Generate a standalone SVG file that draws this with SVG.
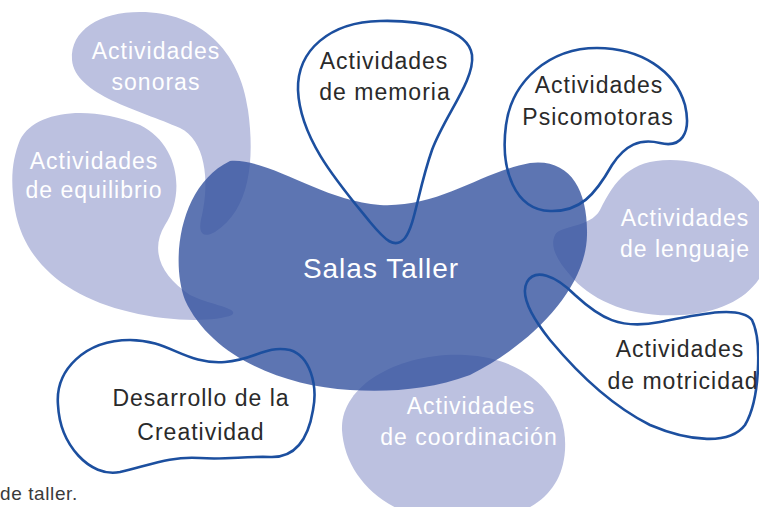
<svg xmlns="http://www.w3.org/2000/svg" width="759" height="507" viewBox="0 0 759 507">
<style>
.light{fill:#bcc1e0}
.main{fill:#34529f;fill-opacity:0.8}
.outline{fill:none;stroke:#1c4f9f;stroke-width:2.6;stroke-linejoin:round}
text{font-family:"Liberation Sans",Arial,sans-serif;font-size:23px;letter-spacing:1px;text-anchor:middle}
.w{fill:#ffffff}
.k{fill:#2a2a2a}
</style>
<rect width="759" height="507" fill="#ffffff"/>
<g id="sonoras">
<path class="light" d="M 72,60 C 70,30 100,12 140,12 C 200,12 240,50 248,110 C 255,160 250,210 215,232 C 200,240 198,230 202,215 C 210,180 205,140 180,128 C 140,110 75,95 72,60 Z"/>
</g>
<g id="equilibrio">
<path class="light" d="M 20,140 C 35,110 90,105 140,125 C 180,145 185,195 165,225 C 150,250 160,275 190,295 C 210,305 240,308 232,315 C 215,322 170,322 130,312 C 70,298 25,265 15,210 C 10,180 12,160 20,140 Z"/>
</g>
<g id="lenguaje">
<path class="light" d="M 555,235 C 560,225 590,228 600,210 C 615,180 630,160 670,160 C 720,160 765,190 770,230 C 775,280 740,312 680,315 C 630,318 590,300 570,275 C 555,258 550,245 555,235 Z"/>
</g>
<g id="coordinacion">
<path class="light" d="M 342,430 C 340,385 400,352 465,355 C 530,358 568,400 565,450 C 562,500 520,522 460,522 C 390,522 345,480 342,430 Z"/>
</g>
<g id="salas-taller">
<path class="main" d="M 230,161 C 270,158 320,200 380,205 C 440,208 480,172 530,163 C 570,158 588,190 587,235 C 586,290 530,345 470,375 C 430,390 390,392 350,390 C 280,386 210,355 185,300 C 170,260 180,185 230,161 Z"/>
</g>
<g id="memoria">
<path class="outline" d="M 380,21 C 420,20 468,28 472,55 C 475,80 445,115 432,150 C 418,190 415,225 405,238 C 395,250 385,240 370,222 C 340,185 300,140 298,90 C 297,50 330,22 380,21 Z"/>
</g>
<g id="psicomotoras">
<path class="outline" d="M 597,48 C 640,48 675,70 685,105 C 692,135 680,148 660,143 C 640,138 625,145 612,165 C 595,195 580,212 550,211 C 515,210 500,170 506,125 C 512,80 550,48 597,48 Z"/>
</g>
<g id="creatividad">
<path class="outline" d="M 58,405 C 55,370 85,340 130,340 C 170,340 185,365 225,362 C 255,360 265,345 290,350 C 310,356 318,385 313,410 C 308,440 295,458 270,457 C 245,456 225,460 200,458 C 170,456 150,465 120,472 C 90,478 60,445 58,405 Z"/>
</g>
<g id="motricidad">
<path class="outline" d="M 527,282 C 535,268 555,275 575,295 C 600,318 620,330 660,322 C 700,314 740,305 752,320 C 762,340 760,400 745,425 C 730,445 690,442 650,425 C 610,405 575,370 550,340 C 530,315 520,295 527,282 Z"/>
</g>
<g id="labels">
<text class="w" x="156" y="59">Actividades</text>
<text class="w" x="156" y="90">sonoras</text>
<text class="w" x="94" y="169">Actividades</text>
<text class="w" x="94" y="198">de equilibrio</text>
<text class="k" x="384" y="69">Actividades</text>
<text class="k" x="385" y="100">de memoria</text>
<text class="k" x="599" y="93">Actividades</text>
<text class="k" x="598" y="125">Psicomotoras</text>
<text class="w" x="685" y="226">Actividades</text>
<text class="w" x="685" y="257">de lenguaje</text>
<text class="w" x="381" y="278" style="font-size:28px">Salas Taller</text>
<text class="k" x="680" y="357">Actividades</text>
<text class="k" x="683" y="389">de motricidad</text>
<text class="w" x="471" y="414">Actividades</text>
<text class="w" x="469" y="445">de coordinación</text>
<text class="k" x="201" y="406">Desarrollo de la</text>
<text class="k" x="201" y="440">Creatividad</text>
<text x="0" y="500" style="font-size:19px;letter-spacing:0.6px;text-anchor:start;fill:#3a3a3a">de taller.</text>
</g>
</svg>
